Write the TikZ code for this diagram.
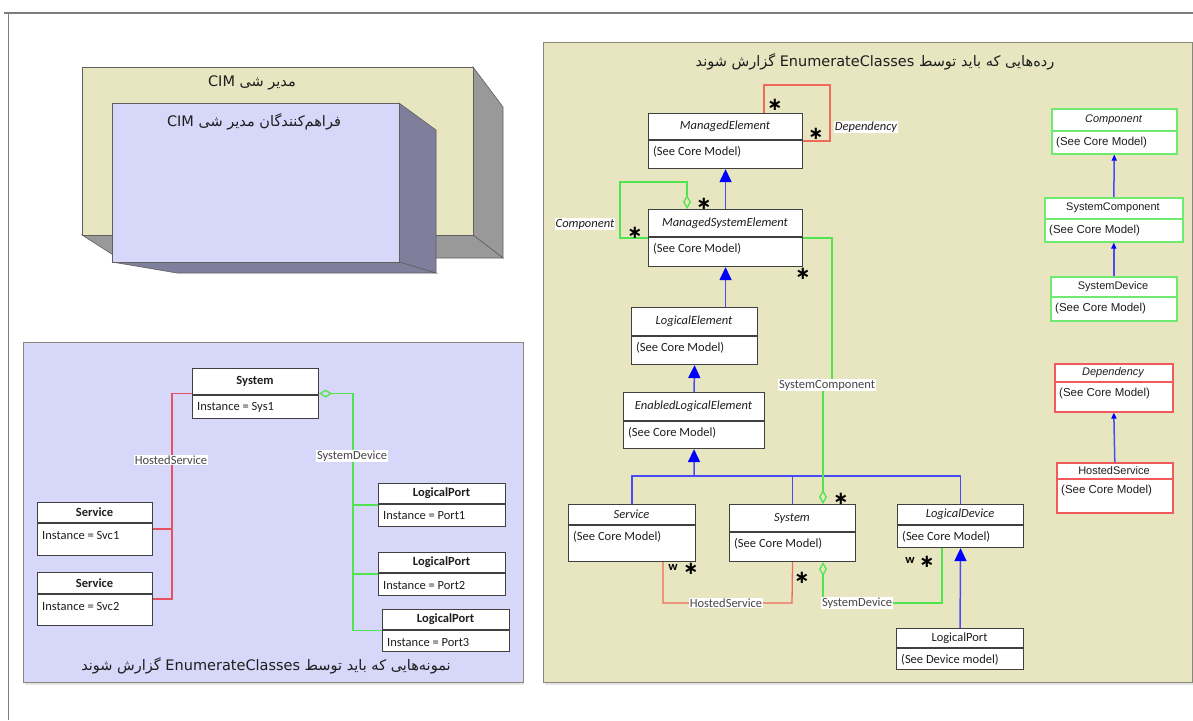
\documentclass[tikz,border=0pt]{standalone}
\usepackage{fontspec}
\setmainfont{Carlito}
\newfontfamily\arialfont{Liberation Sans}
\newfontfamily\symfont{DejaVu Sans}
\newfontfamily\fafont[Script=Arabic]{DejaVu Sans}
\TeXXeTstate=1
\usetikzlibrary{arrows.meta,calc}

\definecolor{paneyel}{RGB}{231,230,193}
\definecolor{panelav}{RGB}{215,215,250}
\definecolor{paneedge}{RGB}{135,135,122}
\definecolor{sidegray}{RGB}{153,153,153}
\definecolor{sidelav}{RGB}{127,127,155}
\definecolor{edgegray}{RGB}{95,95,95}
\definecolor{boxline}{RGB}{64,64,64}
\definecolor{relred}{RGB}{240,105,90}
\definecolor{relredL}{RGB}{232,82,96}
\definecolor{relgreen}{RGB}{80,228,80}
\definecolor{genblue}{RGB}{75,75,245}
\definecolor{tipblue}{RGB}{0,0,255}
\definecolor{framegray}{RGB}{125,125,125}
\definecolor{labeltext}{RGB}{70,70,70}
\definecolor{grnbox}{RGB}{110,235,110}
\definecolor{redbox}{RGB}{240,90,90}
\definecolor{inktext}{RGB}{30,30,30}

% class box: name, x1, y1, x2, y2, divider y, title, body, frame style
\newcommand\classbox[9]{%
  \node[umlbox,#9,minimum width={#4-#2},minimum height={#5-#3},anchor=north west] (#1) at (#2,#3) {};
  \draw[line width=1.1pt,draw=boxline,#9] (#2,#6) -- (#4,#6);
  \node[txt] (#1-name) at ({(#2+#4)/2},{(#3+#6)/2}) {#7};
  \node[txt,anchor=west] (#1-body) at ({#2+4},{#6+12}) {#8};
}

\begin{document}
\begin{tikzpicture}[x=1pt,y=-1pt,
  font=\fontsize{12.5}{14.5}\selectfont,
  umlbox/.style={draw=boxline,fill=white,line width=1.1pt,inner sep=0pt},
  txt/.style={inner sep=1pt,text=inktext},
  panel/.style={draw=paneedge,line width=1.4pt,inner sep=0pt,anchor=north west},
  lbl/.style={fill=white,inner sep=1pt,text=labeltext},
  ilbl/.style={fill=white,inner sep=1pt,text=inktext,font=\fontsize{12.5}{14.5}\selectfont\itshape},
  star/.style={inner sep=0pt,text=black,font=\symfont\bfseries\fontsize{18}{18}\selectfont},
  mult/.style={inner sep=0pt,text=black,font=\bfseries\fontsize{12.5}{14}\selectfont},
  gen/.style={draw=genblue,line width=1.5pt,-{Triangle[width=12pt,length=13pt,color=tipblue]}},
  genplain/.style={draw=genblue,line width=1.5pt},
  gensmall/.style={draw=genblue,line width=1.5pt,-{Triangle[width=5pt,length=6pt,color=tipblue]}},
  relR/.style={draw=relred,line width=1.3pt},
  relRL/.style={draw=relredL,line width=1.3pt},
  relG/.style={draw=relgreen,line width=1.3pt},
  ptitle/.style={inner sep=0pt,text=inktext,font=\fafont\fontsize{14.5}{16}\selectfont},
]
\useasboundingbox (0,0) rectangle (1193,720);

% outer frame (top and left edges)
\draw[framegray,line width=1.5pt] (4,13) -- (1193,13);
\draw[framegray,line width=1.5pt] (8.5,13) -- (8.5,720);

% ---------- nested 3D boxes ----------
\fill[sidegray,draw=edgegray,line width=0.6pt] (473,67) -- (503,107) -- (503,258) -- (473,235) -- cycle;
\fill[sidegray,draw=edgegray,line width=0.6pt] (82,235) -- (473,235) -- (503,258) -- (118,258) -- cycle;
\fill[paneyel,draw=edgegray,line width=0.6pt] (82,67) rectangle (473,235);
\node[ptitle] (cimmgr) at (252,83) {\beginR مدیر شی \beginL CIM\endL\endR};

\fill[sidelav,draw=edgegray,line width=0.6pt] (399,103) -- (436,130) -- (436,273) -- (399,262) -- cycle;
\fill[sidelav,draw=edgegray,line width=0.6pt] (112,262) -- (399,262) -- (436,273) -- (177,273) -- cycle;
\fill[panelav,draw=edgegray,line width=0.6pt] (112,103) rectangle (399,262);
\node[ptitle] (cimprov) at (254,122) {\beginR فراهم‌کنندگان مدیر شی \beginL CIM\endL\endR};

% ---------- instance panel ----------
\fill[black!10] (25,683) rectangle (524,685);
\node[panel,fill=panelav,minimum width=500,minimum height=340] (instpanel) at (23,342) {};
\node[ptitle] (insttitle) at (266,666) {\beginR نمونه‌هایی که باید توسط \beginL EnumerateClasses\endL{} گزارش شوند\endR};

\classbox{sysL}{192}{368}{318}{418}{395}{\bfseries System}{Instance = Sys1}{}
\classbox{svcA}{37}{502}{152}{555}{523}{\bfseries Service}{Instance = Svc1}{}
\classbox{svcB}{37}{572}{152}{625}{594}{\bfseries Service}{Instance = Svc2}{}
\classbox{portA}{378}{483}{505}{526}{504}{\bfseries LogicalPort}{Instance = Port1}{}
\classbox{portB}{378}{552}{505}{595}{573}{\bfseries LogicalPort}{Instance = Port2}{}
\classbox{portC}{382}{609}{509}{651}{630}{\bfseries LogicalPort}{Instance = Port3}{}

\coordinate (hsX) at (172,0);
\draw[relRL] (sysL.west) -| (hsX |- svcB.east) -- (svcB.east);
\draw[relRL] (svcA.east) -- (hsX |- svcA.east);
\coordinate (sdX) at (353,0);
\draw[relG,{Diamond[open,width=8pt,length=13pt]}-] (sysL.east) -| (sdX |- portC.west) -- (portC.west);
\draw[relG] (sdX |- portA.west) -- (portA.west);
\draw[relG] (sdX |- portB.west) -- (portB.west);
\node[lbl] (hsLbl) at (171,460) {HostedService};
\node[lbl] (sdLbl) at (352,456) {SystemDevice};

% ---------- class panel ----------
\fill[black!10] (545,683) rectangle (1193,685);
\node[panel,fill=paneyel,minimum width=649,minimum height=640] (classpanel) at (543,42) {};
\node[ptitle] (classtitle) at (875,62) {\beginR رده‌هایی که باید توسط \beginL EnumerateClasses\endL{} گزارش شوند\endR};

\classbox{me}{648}{113}{802}{168}{140}{\itshape ManagedElement}{(See Core Model)}{}
\classbox{mse}{648}{209}{802}{266}{237}{\itshape ManagedSystemElement}{(See Core Model)}{}
\classbox{le}{631}{307}{757}{364}{336}{\itshape LogicalElement}{(See Core Model)}{}
\classbox{ele}{623}{392}{764}{448}{421}{\itshape EnabledLogicalElement}{(See Core Model)}{}
\classbox{svc}{568}{504}{695}{561}{525}{\itshape Service}{(See Core Model)}{}
\classbox{sys}{729}{504}{855}{561}{532}{\itshape System}{(See Core Model)}{}
\classbox{ld}{897}{504}{1023}{547}{525}{\itshape LogicalDevice}{(See Core Model)}{}
\classbox{lp}{896}{628}{1023}{669}{648}{LogicalPort}{(See Device model)}{}

% association classes
\classbox{comp}{1051}{108}{1176}{153}{131}{\arialfont\fontsize{11}{13}\selectfont\itshape Component}{\arialfont\fontsize{11.5}{13.5}\selectfont (See Core Model)}{draw=grnbox,line width=1.6pt}
\classbox{sc}{1044}{197}{1182}{241}{219}{\arialfont\fontsize{11}{13}\selectfont SystemComponent}{\arialfont\fontsize{11.5}{13.5}\selectfont (See Core Model)}{draw=grnbox,line width=1.6pt}
\classbox{sd}{1050}{276}{1176}{320}{297}{\arialfont\fontsize{11}{13}\selectfont SystemDevice}{\arialfont\fontsize{11.5}{13.5}\selectfont (See Core Model)}{draw=grnbox,line width=1.6pt}
\classbox{dep}{1054}{363}{1172}{411}{382}{\arialfont\fontsize{11}{13}\selectfont\itshape Dependency}{\arialfont\fontsize{11.5}{13.5}\selectfont (See Core Model)}{draw=redbox,line width=1.6pt}
\classbox{hs}{1056}{462}{1172}{512}{479}{\arialfont\fontsize{11}{13}\selectfont HostedService}{\arialfont\fontsize{11.5}{13.5}\selectfont (See Core Model)}{draw=redbox,line width=1.6pt}

% generalisations
\draw[gen] (mse.north) -- (me.south);
\draw[gen] (mse.south |- le.north) -- (mse.south);
\draw[gen] (ele.north) -- (le.south);
\coordinate (bus) at (694,476);
\draw[genplain] (svc.north) |- (bus) -| (ld.north);
\draw[genplain] (sys.north) -- (sys.north |- bus);
\draw[gen] (bus) -- (ele.south);
\draw[gen] (lp.north) -- (ld.south);
\draw[gensmall] (sc.north) -- (comp.south);
\draw[gensmall] (sd.north) -- (sc.south);
\draw[gensmall] (hs.north) -- (dep.south);

% associations
\coordinate (depTop) at (830,85);
\draw[relR] ($(me.north west)+(116,0)$) |- (depTop) |- (me.east);
\coordinate (cmpTop) at (620,182);
\draw[relG,{Diamond[open,width=8pt,length=14pt]}-] ($(mse.north west)+(39,0)$) |- (cmpTop) |- (mse.west);
\coordinate (scA) at (832,384);
\coordinate (scB) at (823,384);
\draw[relG,-{Diamond[open,width=8pt,length=14pt]}] (mse.east) -| (scA) -- (scB) -- (scB |- sys.north);
\coordinate (hsR) at (792,603);
\draw[relR] ($(svc.south west)+(95,0)$) |- (hsR) -- (sys.south);
\coordinate (sdR) at (942,603);
\draw[relG,{Diamond[open,width=8pt,length=14pt]}-] ($(sys.south west)+(94,0)$) |- (sdR) -- (sdR |- ld.south);

% association labels
\node[ilbl] (depLbl) at (866,127) {Dependency};
\node[ilbl] (cmpLbl) at (585,224) {Component};
\node[lbl] (scLbl) at (827,385) {SystemComponent};
\node[lbl] (hsRLbl) at (726,603) {HostedService};
\node[lbl] (sdRLbl) at (857,603) {SystemDevice};

% multiplicities
\node[star] (m1) at (775,105) {∗};
\node[star] (m2) at (816,134) {∗};
\node[star] (m3) at (704,204) {∗};
\node[star] (m4) at (635,233) {∗};
\node[star] (m5) at (803,274) {∗};
\node[star] (m6) at (841,499) {∗};
\node[star] (m7) at (691,569) {∗};
\node[star] (m8) at (802,578) {∗};
\node[star] (m9) at (927,562) {∗};
\node[mult] (w1) at (673,567) {w};
\node[mult] (w2) at (910,560) {w};
\end{tikzpicture}
\end{document}
